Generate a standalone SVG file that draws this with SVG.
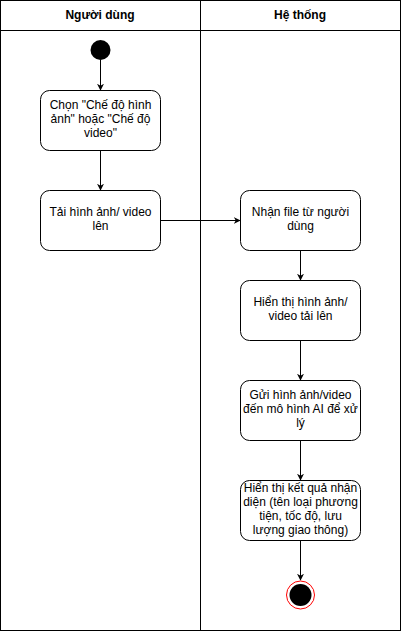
<svg xmlns="http://www.w3.org/2000/svg" width="401" height="631" viewBox="0 0 401 631">
<style>
.lane{fill:#fff;stroke:#000;stroke-width:1}
.node{fill:#fff;stroke:#000;stroke-width:1}
.t{font-family:"Liberation Sans",Arial,sans-serif;font-size:12px;fill:#000;text-anchor:middle}
.h{font-family:"Liberation Sans",Arial,sans-serif;font-size:12px;font-weight:bold;fill:#000;text-anchor:middle}
.e{stroke:#000;stroke-width:1;fill:none;marker-end:url(#arr)}
</style>
<defs>
<marker id="arr" viewBox="0 0 10 10" refX="9" refY="5" markerWidth="7" markerHeight="7" orient="auto" markerUnits="userSpaceOnUse">
<path d="M0,0 L10,5 L0,10 L3,5 Z" fill="#000"/>
</marker>
</defs>
<g id="lane-user">
<rect class="lane" x="0.5" y="0.5" width="200" height="630"/>
<line x1="0.5" y1="30.5" x2="200.5" y2="30.5" stroke="#000"/>
<text class="h" x="100" y="19">Người dùng</text>
</g>
<g id="lane-system">
<rect class="lane" x="200.5" y="0.5" width="200" height="630"/>
<line x1="200.5" y1="30.5" x2="400.5" y2="30.5" stroke="#000"/>
<text class="h" x="300" y="19">Hệ thống</text>
</g>
<g id="connectors">
<line class="e" x1="100.5" y1="60" x2="100.5" y2="90"/>
<line class="e" x1="100.5" y1="150" x2="100.5" y2="190"/>
<line class="e" x1="160" y1="220.5" x2="240" y2="220.5"/>
<line class="e" x1="300.5" y1="250" x2="300.5" y2="280"/>
<line class="e" x1="300.5" y1="340" x2="300.5" y2="380"/>
<line class="e" x1="300.5" y1="440" x2="300.5" y2="480"/>
<line class="e" x1="300.5" y1="540" x2="300.5" y2="580"/>
</g>
<g id="start">
<circle cx="100.5" cy="50" r="10" fill="#000"/>
</g>
<g id="n1">
<rect class="node" x="40.5" y="90.5" width="120" height="60" rx="9"/>
<text class="t" x="100.5" y="109">Chọn "Chế độ hình</text>
<text class="t" x="100.5" y="123">ảnh" hoặc "Chế độ</text>
<text class="t" x="100.5" y="137">video"</text>
</g>
<g id="n2">
<rect class="node" x="40.5" y="190.5" width="120" height="60" rx="9"/>
<text class="t" x="100.5" y="216">Tải hình ảnh/ video</text>
<text class="t" x="100.5" y="230">lên</text>
</g>
<g id="n3">
<rect class="node" x="240.5" y="190.5" width="120" height="60" rx="9"/>
<text class="t" x="300.5" y="216">Nhận file từ người</text>
<text class="t" x="300.5" y="230">dùng</text>
</g>
<g id="n4">
<rect class="node" x="240.5" y="280.5" width="120" height="60" rx="9"/>
<text class="t" x="300.5" y="306">Hiển thị hình ảnh/</text>
<text class="t" x="300.5" y="320">video tải lên</text>
</g>
<g id="n5">
<rect class="node" x="240.5" y="380.5" width="120" height="60" rx="9"/>
<text class="t" x="300.5" y="399">Gửi hình ảnh/video</text>
<text class="t" x="300.5" y="413">đến mô hình AI để xử</text>
<text class="t" x="300.5" y="427">lý</text>
</g>
<g id="n6">
<rect class="node" x="240.5" y="480.5" width="120" height="60" rx="9"/>
<text class="t" x="300.5" y="492">Hiển thị kết quả nhận</text>
<text class="t" x="300.5" y="506">diện (tên loại phương</text>
<text class="t" x="300.5" y="520">tiện, tốc độ, lưu</text>
<text class="t" x="300.5" y="534">lượng giao thông)</text>
</g>
<g id="end">
<circle cx="300.5" cy="595" r="14" fill="#fff" stroke="#ff0000" stroke-width="1"/>
<circle cx="300.5" cy="595" r="11" fill="#000"/>
</g>
</svg>
